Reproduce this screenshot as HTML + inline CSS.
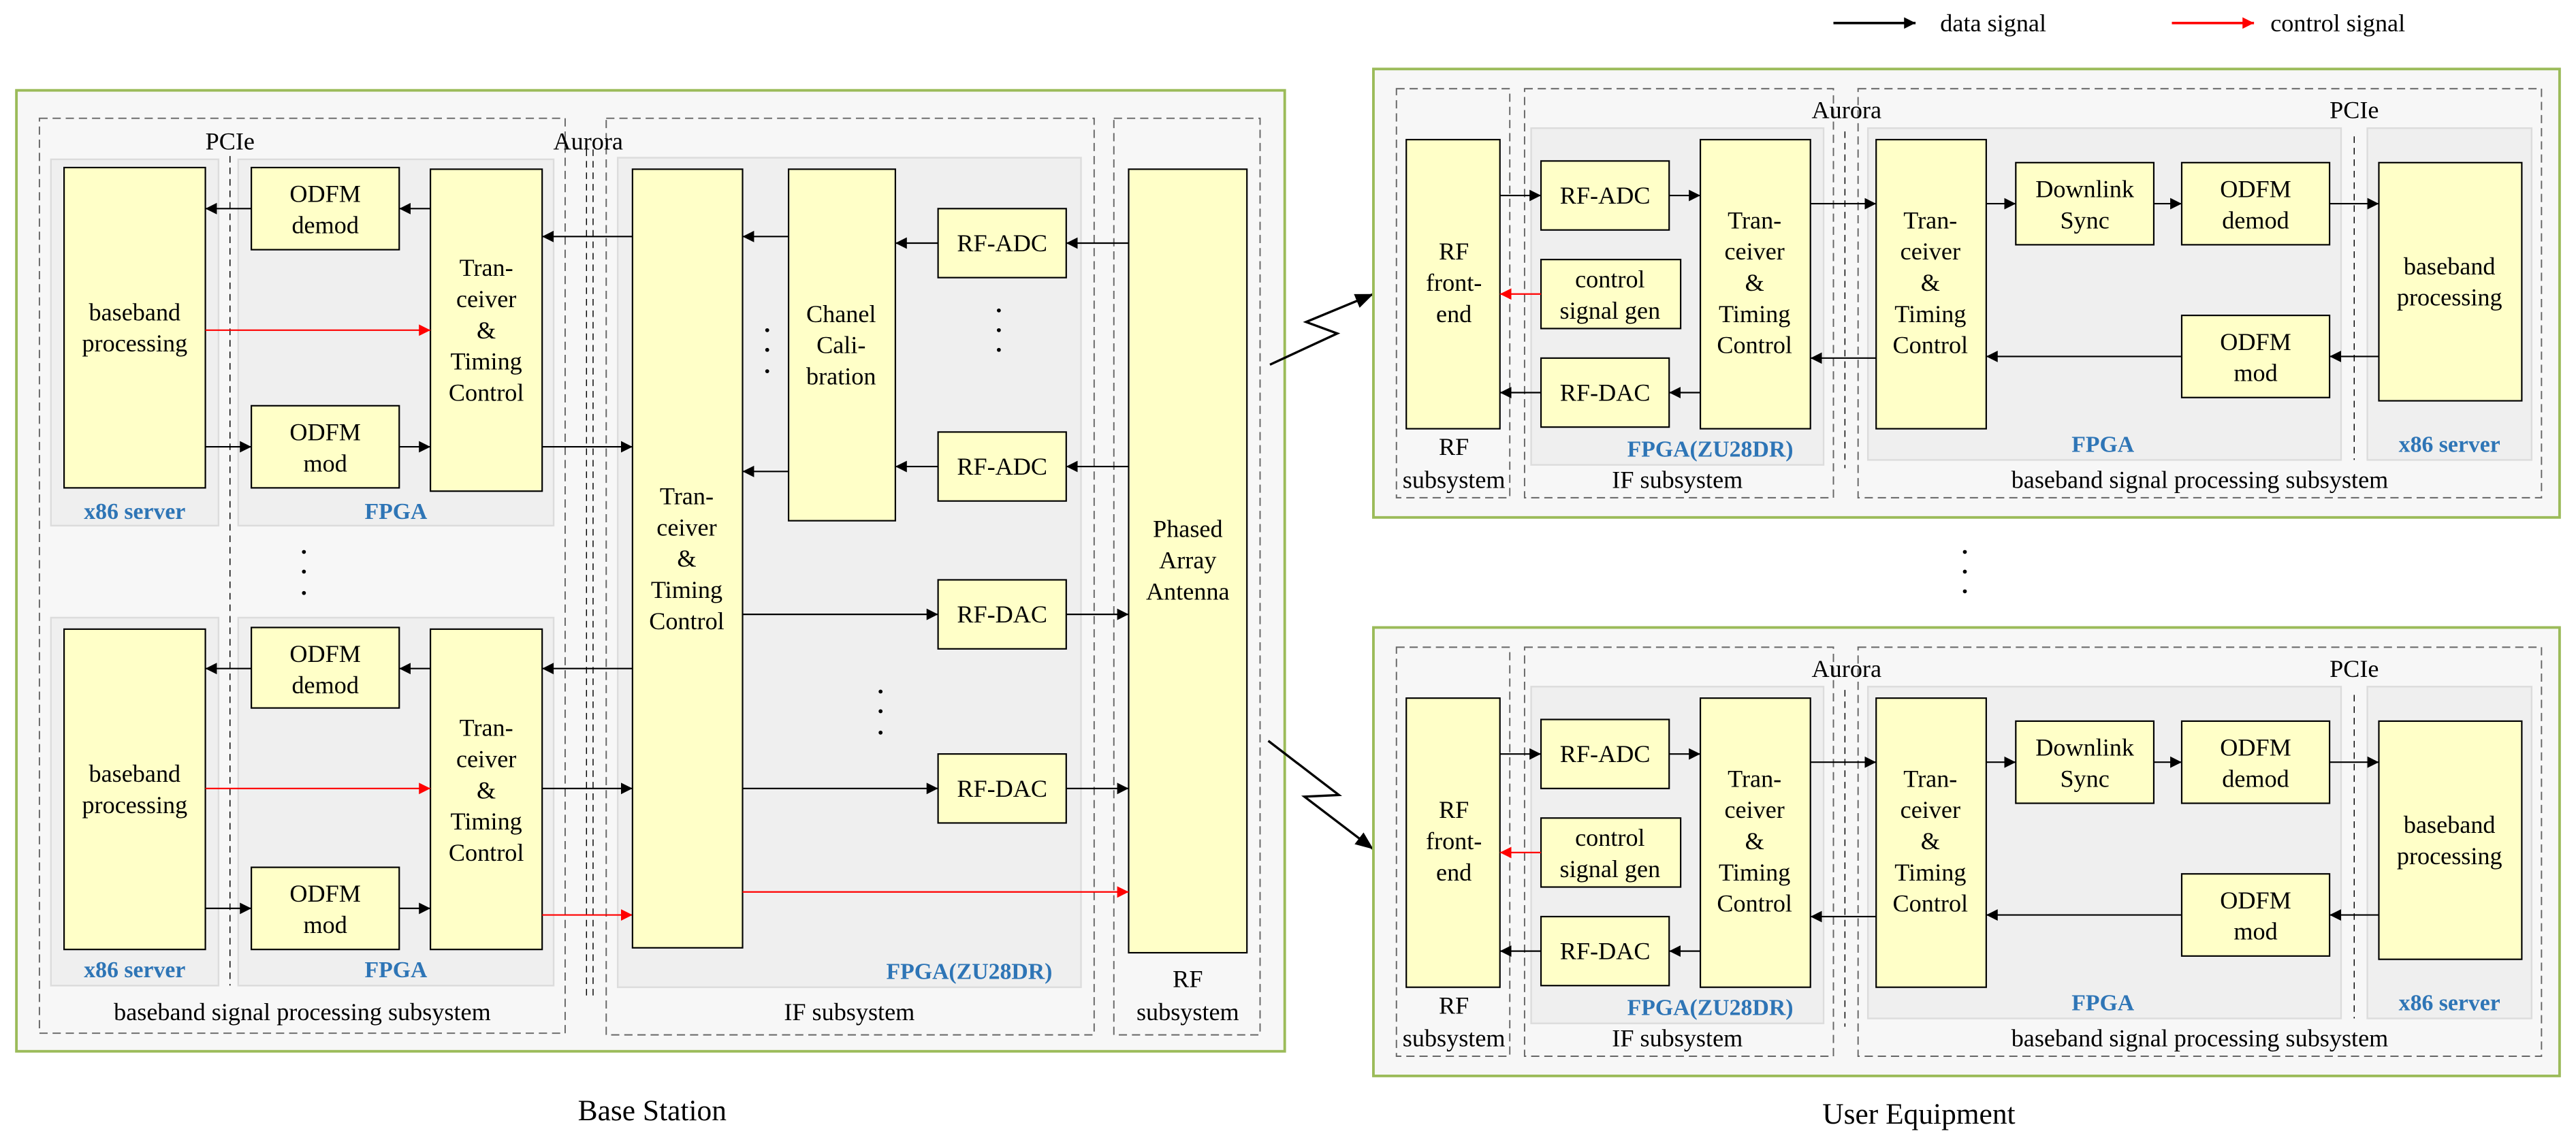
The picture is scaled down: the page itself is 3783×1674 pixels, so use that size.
<!DOCTYPE html>
<html><head><meta charset="utf-8"><style>
html,body{margin:0;padding:0;background:#fff;}
svg{display:block;font-family:"Liberation Serif","Times New Roman",serif;}
text{font-family:"Liberation Serif","Times New Roman",serif;fill:#000;}
.t{font-size:15px;text-anchor:middle;}
.b{font-size:14px;font-weight:bold;fill:#2e75b6;text-anchor:middle;}
.y{fill:#ffffc8;stroke:#000;stroke-width:0.9;}
.g{fill:#efefef;stroke:#dcdcdc;stroke-width:1;}
.d{fill:none;stroke:#666;stroke-width:0.8;stroke-dasharray:5,3;}
.k{stroke:#000;stroke-width:0.9;fill:none;}
.r{stroke:#f00;stroke-width:0.9;fill:none;}
.v{stroke:#000;stroke-width:0.6;stroke-dasharray:4,3;fill:none;}
</style></head><body>
<svg width="3783" height="1674" viewBox="0 0 1568 694" preserveAspectRatio="none" xmlns="http://www.w3.org/2000/svg" font-family="Liberation Serif, serif">
<defs>
<marker id="a" markerWidth="8" markerHeight="8" refX="7" refY="4" orient="auto" markerUnits="userSpaceOnUse"><path d="M0,0.5 L7,4 L0,7.5 Z" fill="#000"/></marker>
<marker id="ra" markerWidth="8" markerHeight="8" refX="7" refY="4" orient="auto" markerUnits="userSpaceOnUse"><path d="M0,0.5 L7,4 L0,7.5 Z" fill="#f00"/></marker>
<marker id="z" markerWidth="12" markerHeight="10" refX="11" refY="5" orient="auto" markerUnits="userSpaceOnUse"><path d="M0,0.5 L11,5 L0,9.5 Z" fill="#000"/></marker>
</defs>

<line x1="1116" y1="14" x2="1166" y2="14" stroke="#000" stroke-width="1.5" marker-end="url(#a)"/>
<text x="1181" y="19" style="font-size:15px">data signal</text>
<line x1="1322" y1="14" x2="1372" y2="14" stroke="#f00" stroke-width="1.5" marker-end="url(#ra)"/>
<text x="1382" y="19" style="font-size:15px">control signal</text>

<rect x="10" y="55" width="772" height="585" fill="#f7f7f7" stroke="#9bbb59" stroke-width="1.6"/>
<rect class="d" x="24" y="72" width="320" height="557"/>
<rect class="d" x="369" y="72" width="297" height="558"/>
<rect class="d" x="678" y="72" width="89" height="558"/>
<rect class="g" x="31" y="97" width="102" height="223"/>
<rect class="g" x="145" y="97" width="192" height="223"/>
<rect class="g" x="31" y="376" width="102" height="224"/>
<rect class="g" x="145" y="376" width="192" height="224"/>
<rect class="g" x="376" y="96" width="282" height="505"/>
<line class="v" x1="140" y1="95" x2="140" y2="600"/>
<line class="v" x1="357" y1="91" x2="357" y2="607"/>
<line class="v" x1="361" y1="91" x2="361" y2="607"/>
<text class="t" x="140" y="91">PCIe</text>
<text class="t" x="358" y="91">Aurora</text>

<rect class="y" x="39" y="102" width="86" height="195"/>
<text class="t" x="82" y="195">baseband</text><text class="t" x="82" y="214">processing</text>
<rect class="y" x="153" y="102" width="90" height="50"/>
<text class="t" x="198" y="123">ODFM</text><text class="t" x="198" y="142">demod</text>
<rect class="y" x="153" y="247" width="90" height="50"/>
<text class="t" x="198" y="268">ODFM</text><text class="t" x="198" y="287">mod</text>
<rect class="y" x="262" y="103" width="68" height="196"/>
<text class="t" x="296" y="168">Tran-</text><text class="t" x="296" y="187">ceiver</text><text class="t" x="296" y="206">&amp;</text><text class="t" x="296" y="225">Timing</text><text class="t" x="296" y="244">Control</text>
<text class="b" x="82" y="316">x86 server</text>
<text class="b" x="241" y="316">FPGA</text>
<line class="k" x1="262" y1="127" x2="243" y2="127" marker-end="url(#a)"/>
<line class="k" x1="153" y1="127" x2="125" y2="127" marker-end="url(#a)"/>
<line class="r" x1="125" y1="201" x2="262" y2="201" marker-end="url(#ra)"/>
<line class="k" x1="125" y1="272" x2="153" y2="272" marker-end="url(#a)"/>
<line class="k" x1="243" y1="272" x2="262" y2="272" marker-end="url(#a)"/>
<line class="k" x1="385" y1="144" x2="330" y2="144" marker-end="url(#a)"/>
<line class="k" x1="330" y1="272" x2="385" y2="272" marker-end="url(#a)"/>

<circle cx="185" cy="336" r="1.2"/><circle cx="185" cy="348" r="1.2"/><circle cx="185" cy="361" r="1.2"/>

<rect class="y" x="39" y="383" width="86" height="195"/>
<text class="t" x="82" y="476">baseband</text><text class="t" x="82" y="495">processing</text>
<rect class="y" x="153" y="382" width="90" height="49"/>
<text class="t" x="198" y="403">ODFM</text><text class="t" x="198" y="422">demod</text>
<rect class="y" x="153" y="528" width="90" height="50"/>
<text class="t" x="198" y="549">ODFM</text><text class="t" x="198" y="568">mod</text>
<rect class="y" x="262" y="383" width="68" height="195"/>
<text class="t" x="296" y="448">Tran-</text><text class="t" x="296" y="467">ceiver</text><text class="t" x="296" y="486">&amp;</text><text class="t" x="296" y="505">Timing</text><text class="t" x="296" y="524">Control</text>
<text class="b" x="82" y="595">x86 server</text>
<text class="b" x="241" y="595">FPGA</text>
<line class="k" x1="385" y1="407" x2="330" y2="407" marker-end="url(#a)"/>
<line class="k" x1="262" y1="407" x2="243" y2="407" marker-end="url(#a)"/>
<line class="k" x1="153" y1="407" x2="125" y2="407" marker-end="url(#a)"/>
<line class="r" x1="125" y1="480" x2="262" y2="480" marker-end="url(#ra)"/>
<line class="k" x1="330" y1="480" x2="385" y2="480" marker-end="url(#a)"/>
<line class="k" x1="125" y1="553" x2="153" y2="553" marker-end="url(#a)"/>
<line class="k" x1="243" y1="553" x2="262" y2="553" marker-end="url(#a)"/>
<line class="r" x1="330" y1="557" x2="385" y2="557" marker-end="url(#ra)"/>

<rect class="y" x="385" y="103" width="67" height="474"/>
<text class="t" x="418" y="307">Tran-</text><text class="t" x="418" y="326">ceiver</text><text class="t" x="418" y="345">&amp;</text><text class="t" x="418" y="364">Timing</text><text class="t" x="418" y="383">Control</text>
<rect class="y" x="480" y="103" width="65" height="214"/>
<text class="t" x="512" y="196">Chanel</text><text class="t" x="512" y="215">Cali-</text><text class="t" x="512" y="234">bration</text>
<rect class="y" x="571" y="127" width="78" height="42"/><text class="t" x="610" y="153">RF-ADC</text>
<rect class="y" x="571" y="263" width="78" height="42"/><text class="t" x="610" y="289">RF-ADC</text>
<rect class="y" x="571" y="353" width="78" height="42"/><text class="t" x="610" y="379">RF-DAC</text>
<rect class="y" x="571" y="459" width="78" height="42"/><text class="t" x="610" y="485">RF-DAC</text>
<circle cx="467" cy="201" r="1.2"/><circle cx="467" cy="213" r="1.2"/><circle cx="467" cy="226" r="1.2"/>
<circle cx="608" cy="189" r="1.2"/><circle cx="608" cy="201" r="1.2"/><circle cx="608" cy="213" r="1.2"/>
<circle cx="536" cy="421" r="1.2"/><circle cx="536" cy="433" r="1.2"/><circle cx="536" cy="446" r="1.2"/>
<line class="k" x1="480" y1="144" x2="452" y2="144" marker-end="url(#a)"/>
<line class="k" x1="480" y1="287" x2="452" y2="287" marker-end="url(#a)"/>
<line class="k" x1="571" y1="148" x2="545" y2="148" marker-end="url(#a)"/>
<line class="k" x1="571" y1="284" x2="545" y2="284" marker-end="url(#a)"/>
<line class="k" x1="452" y1="374" x2="571" y2="374" marker-end="url(#a)"/>
<line class="k" x1="452" y1="480" x2="571" y2="480" marker-end="url(#a)"/>
<text class="b" x="590" y="596">FPGA(ZU28DR)</text>

<rect class="y" x="687" y="103" width="72" height="477"/>
<text class="t" x="723" y="327">Phased</text><text class="t" x="723" y="346">Array</text><text class="t" x="723" y="365">Antenna</text>
<line class="k" x1="687" y1="148" x2="649" y2="148" marker-end="url(#a)"/>
<line class="k" x1="687" y1="284" x2="649" y2="284" marker-end="url(#a)"/>
<line class="k" x1="649" y1="374" x2="687" y2="374" marker-end="url(#a)"/>
<line class="k" x1="649" y1="480" x2="687" y2="480" marker-end="url(#a)"/>
<line class="r" x1="452" y1="543" x2="687" y2="543" marker-end="url(#ra)"/>
<text class="t" x="723" y="601">RF</text><text class="t" x="723" y="621">subsystem</text>
<text class="t" x="184" y="621">baseband signal processing subsystem</text>
<text class="t" x="517" y="621">IF subsystem</text>
<text x="397" y="682" style="font-size:18px;text-anchor:middle">Base Station</text>

<polyline points="773,222 814,203 795,196 836,179" fill="none" stroke="#000" stroke-width="1.4" marker-end="url(#z)"/>
<polyline points="772,451 815,484 794,485 836,517" fill="none" stroke="#000" stroke-width="1.4" marker-end="url(#z)"/>

<circle cx="1196" cy="336" r="1.2"/><circle cx="1196" cy="348" r="1.2"/><circle cx="1196" cy="360" r="1.2"/>

<g>
<rect x="836" y="42" width="722" height="273" fill="#f7f7f7" stroke="#9bbb59" stroke-width="1.6"/>
<rect class="d" x="850" y="54" width="69" height="249"/>
<rect class="d" x="928" y="54" width="188" height="249"/>
<rect class="d" x="1131" y="54" width="416" height="249"/>
<rect class="g" x="932" y="78" width="178" height="205"/>
<rect class="g" x="1137" y="78" width="288" height="202"/>
<rect class="g" x="1441" y="78" width="100" height="202"/>
<line class="v" x1="1123" y1="80" x2="1123" y2="285"/>
<line class="v" x1="1433" y1="83" x2="1433" y2="280"/>
<text class="t" x="1124" y="72">Aurora</text>
<text class="t" x="1433" y="72">PCIe</text>
<rect class="y" x="856" y="85" width="57" height="176"/>
<text class="t" x="885" y="158">RF</text><text class="t" x="885" y="177">front-</text><text class="t" x="885" y="196">end</text>
<rect class="y" x="938" y="98" width="78" height="42"/><text class="t" x="977" y="124">RF-ADC</text>
<rect class="y" x="938" y="158" width="85" height="42"/><text class="t" x="980" y="175">control</text><text class="t" x="980" y="194">signal gen</text>
<rect class="y" x="938" y="218" width="78" height="42"/><text class="t" x="977" y="244">RF-DAC</text>
<rect class="y" x="1035" y="85" width="67" height="176"/>
<text class="t" x="1068" y="139">Tran-</text><text class="t" x="1068" y="158">ceiver</text><text class="t" x="1068" y="177">&amp;</text><text class="t" x="1068" y="196">Timing</text><text class="t" x="1068" y="215">Control</text>
<rect class="y" x="1142" y="85" width="67" height="176"/>
<text class="t" x="1175" y="139">Tran-</text><text class="t" x="1175" y="158">ceiver</text><text class="t" x="1175" y="177">&amp;</text><text class="t" x="1175" y="196">Timing</text><text class="t" x="1175" y="215">Control</text>
<rect class="y" x="1227" y="99" width="84" height="50"/><text class="t" x="1269" y="120">Downlink</text><text class="t" x="1269" y="139">Sync</text>
<rect class="y" x="1328" y="99" width="90" height="50"/><text class="t" x="1373" y="120">ODFM</text><text class="t" x="1373" y="139">demod</text>
<rect class="y" x="1328" y="192" width="90" height="50"/><text class="t" x="1373" y="213">ODFM</text><text class="t" x="1373" y="232">mod</text>
<rect class="y" x="1448" y="99" width="87" height="145"/><text class="t" x="1491" y="167">baseband</text><text class="t" x="1491" y="186">processing</text>
<line class="k" x1="913" y1="119" x2="938" y2="119" marker-end="url(#a)"/>
<line class="k" x1="1016" y1="119" x2="1035" y2="119" marker-end="url(#a)"/>
<line class="k" x1="1102" y1="124" x2="1142" y2="124" marker-end="url(#a)"/>
<line class="k" x1="1209" y1="124" x2="1227" y2="124" marker-end="url(#a)"/>
<line class="k" x1="1311" y1="124" x2="1328" y2="124" marker-end="url(#a)"/>
<line class="k" x1="1418" y1="124" x2="1448" y2="124" marker-end="url(#a)"/>
<line class="k" x1="1448" y1="217" x2="1418" y2="217" marker-end="url(#a)"/>
<line class="k" x1="1328" y1="217" x2="1209" y2="217" marker-end="url(#a)"/>
<line class="k" x1="1142" y1="218" x2="1102" y2="218" marker-end="url(#a)"/>
<line class="k" x1="1035" y1="239" x2="1016" y2="239" marker-end="url(#a)"/>
<line class="k" x1="938" y1="239" x2="913" y2="239" marker-end="url(#a)"/>
<line class="r" x1="938" y1="179" x2="913" y2="179" marker-end="url(#ra)"/>
<text class="t" x="885" y="277">RF</text><text class="t" x="885" y="297">subsystem</text>
<text class="b" x="1041" y="278">FPGA(ZU28DR)</text>
<text class="b" x="1280" y="275">FPGA</text>
<text class="b" x="1491" y="275">x86 server</text>
<text class="t" x="1021" y="297">IF subsystem</text>
<text class="t" x="1339" y="297">baseband signal processing subsystem</text>
</g>

<g transform="translate(0,340)">
<rect x="836" y="42" width="722" height="273" fill="#f7f7f7" stroke="#9bbb59" stroke-width="1.6"/>
<rect class="d" x="850" y="54" width="69" height="249"/>
<rect class="d" x="928" y="54" width="188" height="249"/>
<rect class="d" x="1131" y="54" width="416" height="249"/>
<rect class="g" x="932" y="78" width="178" height="205"/>
<rect class="g" x="1137" y="78" width="288" height="202"/>
<rect class="g" x="1441" y="78" width="100" height="202"/>
<line class="v" x1="1123" y1="80" x2="1123" y2="285"/>
<line class="v" x1="1433" y1="83" x2="1433" y2="280"/>
<text class="t" x="1124" y="72">Aurora</text>
<text class="t" x="1433" y="72">PCIe</text>
<rect class="y" x="856" y="85" width="57" height="176"/>
<text class="t" x="885" y="158">RF</text><text class="t" x="885" y="177">front-</text><text class="t" x="885" y="196">end</text>
<rect class="y" x="938" y="98" width="78" height="42"/><text class="t" x="977" y="124">RF-ADC</text>
<rect class="y" x="938" y="158" width="85" height="42"/><text class="t" x="980" y="175">control</text><text class="t" x="980" y="194">signal gen</text>
<rect class="y" x="938" y="218" width="78" height="42"/><text class="t" x="977" y="244">RF-DAC</text>
<rect class="y" x="1035" y="85" width="67" height="176"/>
<text class="t" x="1068" y="139">Tran-</text><text class="t" x="1068" y="158">ceiver</text><text class="t" x="1068" y="177">&amp;</text><text class="t" x="1068" y="196">Timing</text><text class="t" x="1068" y="215">Control</text>
<rect class="y" x="1142" y="85" width="67" height="176"/>
<text class="t" x="1175" y="139">Tran-</text><text class="t" x="1175" y="158">ceiver</text><text class="t" x="1175" y="177">&amp;</text><text class="t" x="1175" y="196">Timing</text><text class="t" x="1175" y="215">Control</text>
<rect class="y" x="1227" y="99" width="84" height="50"/><text class="t" x="1269" y="120">Downlink</text><text class="t" x="1269" y="139">Sync</text>
<rect class="y" x="1328" y="99" width="90" height="50"/><text class="t" x="1373" y="120">ODFM</text><text class="t" x="1373" y="139">demod</text>
<rect class="y" x="1328" y="192" width="90" height="50"/><text class="t" x="1373" y="213">ODFM</text><text class="t" x="1373" y="232">mod</text>
<rect class="y" x="1448" y="99" width="87" height="145"/><text class="t" x="1491" y="167">baseband</text><text class="t" x="1491" y="186">processing</text>
<line class="k" x1="913" y1="119" x2="938" y2="119" marker-end="url(#a)"/>
<line class="k" x1="1016" y1="119" x2="1035" y2="119" marker-end="url(#a)"/>
<line class="k" x1="1102" y1="124" x2="1142" y2="124" marker-end="url(#a)"/>
<line class="k" x1="1209" y1="124" x2="1227" y2="124" marker-end="url(#a)"/>
<line class="k" x1="1311" y1="124" x2="1328" y2="124" marker-end="url(#a)"/>
<line class="k" x1="1418" y1="124" x2="1448" y2="124" marker-end="url(#a)"/>
<line class="k" x1="1448" y1="217" x2="1418" y2="217" marker-end="url(#a)"/>
<line class="k" x1="1328" y1="217" x2="1209" y2="217" marker-end="url(#a)"/>
<line class="k" x1="1142" y1="218" x2="1102" y2="218" marker-end="url(#a)"/>
<line class="k" x1="1035" y1="239" x2="1016" y2="239" marker-end="url(#a)"/>
<line class="k" x1="938" y1="239" x2="913" y2="239" marker-end="url(#a)"/>
<line class="r" x1="938" y1="179" x2="913" y2="179" marker-end="url(#ra)"/>
<text class="t" x="885" y="277">RF</text><text class="t" x="885" y="297">subsystem</text>
<text class="b" x="1041" y="278">FPGA(ZU28DR)</text>
<text class="b" x="1280" y="275">FPGA</text>
<text class="b" x="1491" y="275">x86 server</text>
<text class="t" x="1021" y="297">IF subsystem</text>
<text class="t" x="1339" y="297">baseband signal processing subsystem</text>
</g>
<text x="1168" y="684" style="font-size:18px;text-anchor:middle">User Equipment</text>
</svg>
</body></html>
